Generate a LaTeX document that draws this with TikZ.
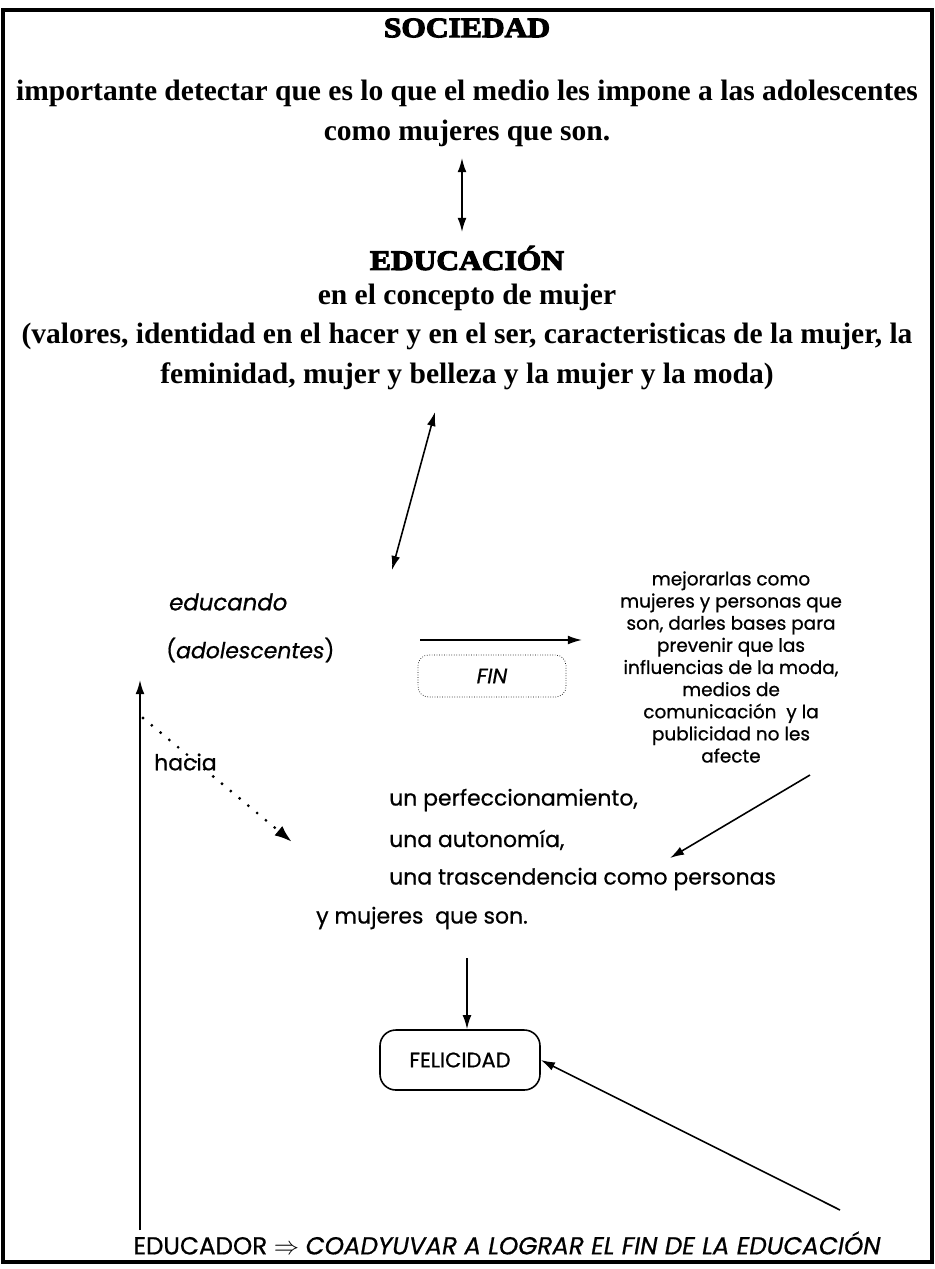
\documentclass[tikz,border=0pt]{standalone}
\usepackage{fontspec}
\setmainfont{Liberation Serif}
\newfontfamily\gothic{Poppins}[FakeBold=0.7]
\newfontfamily\heavy{Liberation Serif}[BoldFeatures={FakeBold=4,FakeStretch=1.12}]
\usetikzlibrary{arrows.meta,positioning}
\begin{document}
\begin{tikzpicture}[x=0.02cm,y=-0.02cm,>={Latex[length=8pt,width=5pt]},
  heading/.style={font=\heavy\bfseries\fontsize{16}{18}\selectfont},
  serifline/.style={font=\bfseries\fontsize{16.8}{19}\selectfont},
  gothtext/.style={font=\gothic\fontsize{12.5}{15}\selectfont},
  gothpar/.style={font=\gothic\fontsize{10.5}{12.6}\selectfont,align=center},
  arr/.style={->,line width=0.9pt}]
  \useasboundingbox (0,0) rectangle (935,1269);
  \draw[line width=2pt] (3,10) rectangle (932,1262);
  % sociedad
  \node[heading] (soc) at (467,28) {SOCIEDAD};
  \node[serifline] (s1) at (467,93) {importante detectar que es lo que el medio les impone a las adolescentes};
  \node[serifline] (s2) at (467,133) {como mujeres que son.};
  % educacion
  \node[heading] (edu) at (467,258) {EDUCACIÓN};
  \node[serifline] (e1) at (467,297) {en el concepto de mujer};
  \node[serifline] (e2) at (467,336) {(valores, identidad en el hacer y en el ser, caracteristicas de la mujer, la};
  \node[serifline] (e3) at (467,376) {feminidad, mujer y belleza y la mujer y la moda)};
  \coordinate (a1) at (462,158);
  \coordinate (a2) at (462,232);
  \draw[<->,line width=0.9pt] (a1) -- (a2);
  \coordinate (b1) at (435,412);
  \coordinate (b2) at (392,570);
  \draw[<->,line width=0.9pt] (b1) -- (b2);
  % educando
  \node[font=\gothic\itshape\fontsize{13}{15}\selectfont,anchor=west] (educando) at (163,602) {educando};
  \node[font=\gothic\fontsize{12.5}{15}\selectfont,anchor=west] (adol) at (160,650) {(\textit{adolescentes})};
  \node[font=\gothic\itshape\fontsize{12}{14}\selectfont,draw,densely dotted,rounded corners=6pt,
    minimum width=148*0.02cm,minimum height=42*0.02cm] (fin) at (492,676) {FIN};
  \coordinate (c1) at (420,640);
  \coordinate (c2) at (582,640);
  \draw[arr] (c1) -- (c2);
  \node[gothpar] (meta) at (731,667) {mejorarlas como\\mujeres y personas que\\son, darles bases para\\prevenir que las\\influencias de la moda,\\medios de\\comunicación~ y la\\publicidad no les\\afecte};
  % hacia
  \node[gothtext,anchor=west] (hacia) at (148,762) {hacia};
  \coordinate (d1) at (143,718);
  \coordinate (d2) at (292,842);
  \draw[-{Latex[length=10pt,width=7pt]},line width=1.8pt,line cap=round,dash pattern=on 0pt off 6.5pt] (d1) -- (d2);
  \node[gothtext,anchor=west] (p1) at (383,800) {un perfeccionamiento,};
  \node[gothtext,anchor=west] (p2) at (383,840) {una autonomía,};
  \node[gothtext,anchor=west] (p3) at (383,879) {una trascendencia como personas};
  \node[gothtext,anchor=west] (p4) at (310,918) {y mujeres~ que son.};
  \coordinate (f1) at (810,775);
  \coordinate (f2) at (670,858);
  \draw[arr] (f1) -- (f2);
  % felicidad
  \node[font=\gothic\fontsize{12}{14}\selectfont,draw,line width=0.9pt,rounded corners=9pt,
    minimum width=160*0.02cm,minimum height=60*0.02cm] (fel) at (460,1060) {FELICIDAD};
  \coordinate (g1) at (467,958);
  \draw[arr] (g1) -- (fel.north -| g1);
  \node[font=\gothic\fontsize{14}{16}\selectfont] (educador) at (507,1243)
    {EDUCADOR $\Rightarrow$ \textit{COADYUVAR A LOGRAR EL FIN DE LA EDUCACIÓN}};
  \coordinate (h1) at (840,1210);
  \draw[arr] (h1) -- (fel.east);
  \coordinate (k1) at (140,1230);
  \coordinate (k2) at (140,680);
  \draw[arr] (k1) -- (k2);
\end{tikzpicture}
\end{document}
